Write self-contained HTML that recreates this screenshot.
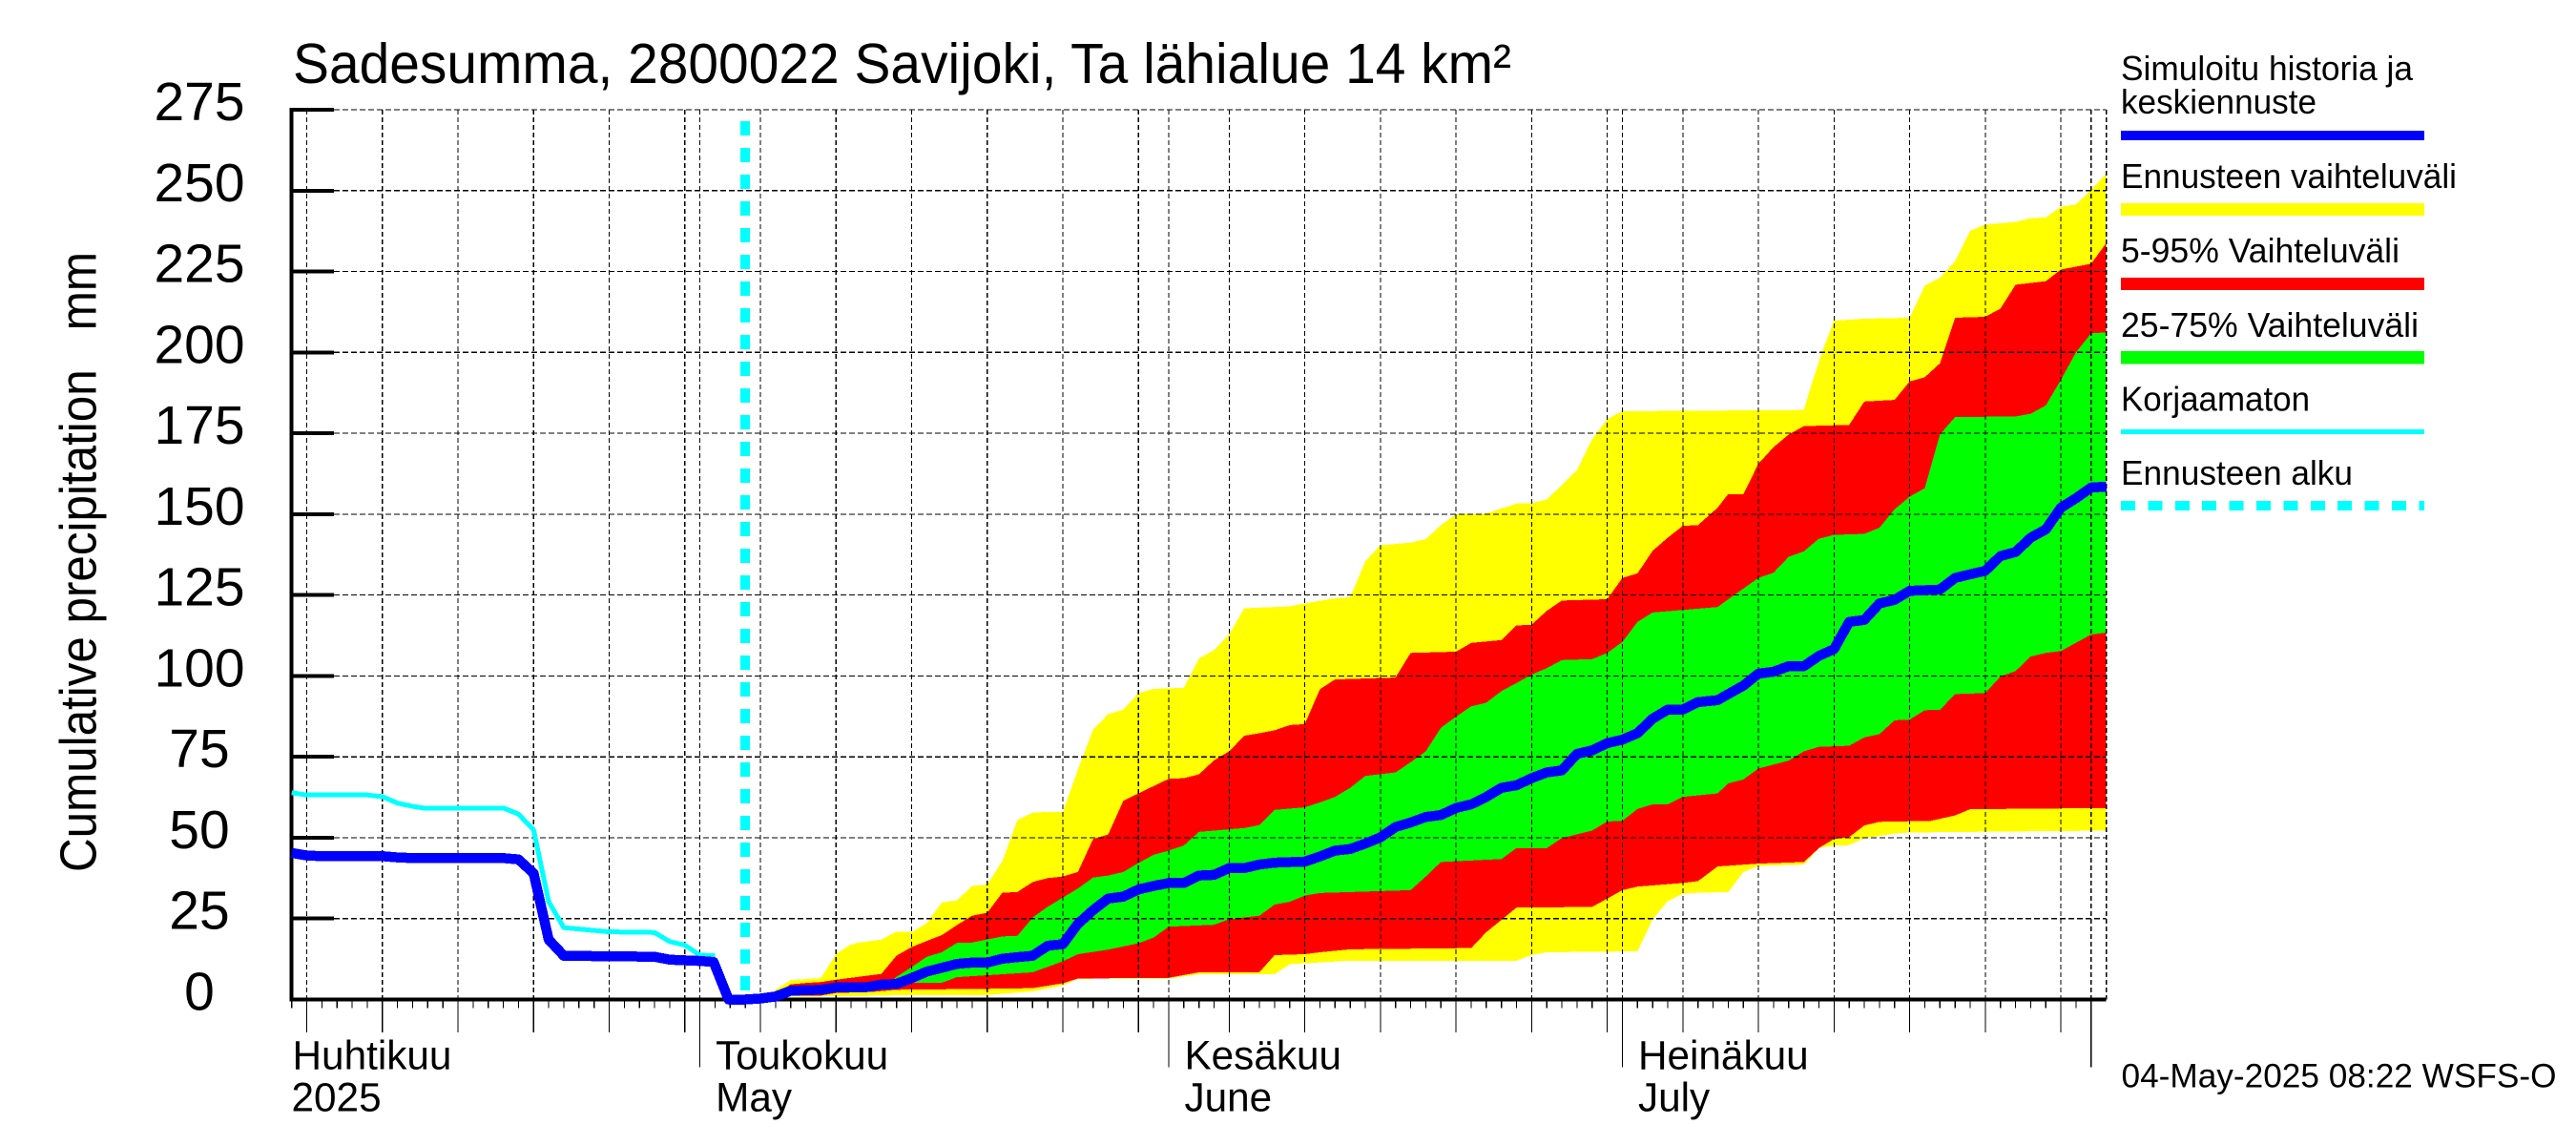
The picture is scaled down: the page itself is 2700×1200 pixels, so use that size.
<!DOCTYPE html>
<html lang="fi">
<head>
<meta charset="utf-8">
<title>Sadesumma, 2800022 Savijoki</title>
<style>
html,body{margin:0;padding:0;background:#fff;}
svg{display:block;}
text{font-family:"Liberation Sans",sans-serif;fill:#000;white-space:pre;}
</style>
</head>
<body>
<svg id="chart" xmlns="http://www.w3.org/2000/svg" width="2700" height="1200" viewBox="0 0 2700 1200">
  <rect x="0" y="0" width="2700" height="1200" fill="#ffffff"/>
  <g id="bands" shape-rendering="crispEdges"></g>
  <g id="grid" shape-rendering="crispEdges"></g>
  <g id="axes" shape-rendering="crispEdges"></g>
  <g id="series" shape-rendering="crispEdges"></g>
  <g id="labels"></g>
  <text x="307" y="87" font-size="59" textLength="1277" lengthAdjust="spacingAndGlyphs">Sadesumma, 2800022 Savijoki, Ta lähialue 14 km²</text>
  <text transform="translate(100.5 914) rotate(-90)" font-size="54" textLength="650" lengthAdjust="spacingAndGlyphs">Cumulative precipitation   mm</text>
  <text x="2223.5" y="1139.5" font-size="35" textLength="456" lengthAdjust="spacingAndGlyphs">04-May-2025 08:22 WSFS-O</text>
  <g shape-rendering="crispEdges">
    <g>
      <text x="2223" y="84" font-size="36" textLength="306" lengthAdjust="spacingAndGlyphs" shape-rendering="auto">Simuloitu historia ja</text>
      <text x="2223" y="119" font-size="36" textLength="205" lengthAdjust="spacingAndGlyphs">keskiennuste</text>
      <rect x="2223" y="137" width="318" height="10" fill="#0000ff"/>
    </g>
    <g>
      <text x="2223" y="197" font-size="36" textLength="352" lengthAdjust="spacingAndGlyphs">Ennusteen vaihteluväli</text>
      <rect x="2223" y="213" width="318" height="13" fill="#ffff00"/>
    </g>
    <g>
      <text x="2223" y="275" font-size="36" textLength="292" lengthAdjust="spacingAndGlyphs">5-95% Vaihteluväli</text>
      <rect x="2223" y="291" width="318" height="13" fill="#ff0000"/>
    </g>
    <g>
      <text x="2223" y="353" font-size="36" textLength="312" lengthAdjust="spacingAndGlyphs">25-75% Vaihteluväli</text>
      <rect x="2223" y="368" width="318" height="13.5" fill="#00ff00"/>
    </g>
    <g>
      <text x="2223" y="430.5" font-size="36" textLength="198" lengthAdjust="spacingAndGlyphs">Korjaamaton</text>
      <rect x="2223" y="450" width="318" height="5" fill="#00ffff"/>
    </g>
    <g>
      <text x="2223" y="508" font-size="36" textLength="243" lengthAdjust="spacingAndGlyphs">Ennusteen alku</text>
      <line x1="2223" y1="530" x2="2541" y2="530" stroke="#00ffff" stroke-width="10" stroke-dasharray="15 13.4"/>
    </g>
  </g>
</svg>
<script>
// Values. Days are counted from 1 May 2025 (negative = April).
var yTicks = [0, 25, 50, 75, 100, 125, 150, 175, 200, 225, 250, 275];
var majorDays = [-26, -21, -16, -11, -6, -1, 4, 9, 14, 19, 24, 29, 35, 40, 45, 50, 55, 60, 65, 70, 75, 80, 85, 90];
var monthDays = [0, 31, 61, 92];
var monthNames = ["Toukokuu", "Kesäkuu", "Heinäkuu"];
var monthNamesEn = ["May", "June", "July"];
var forecastStartDay = 3;

var yellowUpperDays = [4.5, 5.2, 6, 8, 9, 9.9, 10.5, 12, 13, 14, 15, 16, 17, 18, 19, 20, 21, 22, 23, 24, 25, 26, 27, 28, 29, 30, 32, 33, 34, 35, 36, 39, 40, 42, 43, 44, 45, 47, 48, 49, 50, 52, 54, 55, 56, 58, 59, 60, 61, 73, 73.6, 74.2, 75, 77, 80, 81, 82, 83, 84, 85, 87, 88, 89, 90, 91, 92, 93];
var yellowUpperVals = [1, 3.7, 6, 6.6, 14, 16.8, 17.6, 18.5, 21, 20.8, 23.6, 30, 30.6, 35.1, 35.5, 42.8, 55.5, 57.7, 58, 58, 71, 83.4, 88.2, 89.6, 94.7, 96, 96.3, 105.4, 108, 112.8, 120.9, 121.5, 122.4, 124, 124.3, 135.4, 140.4, 141.2, 142.3, 146.6, 150, 150.2, 153.3, 153.4, 154.5, 163.6, 173.2, 179.4, 181.8, 182.2, 191.5, 200, 209.8, 210.4, 210.7, 220.6, 223.1, 228.2, 237.6, 239.5, 240.3, 241.5, 241.7, 245, 245.7, 250.2, 255.3];

var redUpperDays = [5, 6, 7, 8, 9, 11, 12, 13, 14, 15, 16, 17, 18, 19, 20, 21, 22, 23, 24, 25, 26, 27, 28, 29, 31, 32, 33, 34, 35, 36, 37, 38, 39, 40, 41, 42, 46, 47, 50, 51, 53, 54, 55, 56, 57, 60, 61, 62, 63, 64, 65, 66, 67.3, 68, 69, 70, 71, 72, 73, 76, 77, 79, 80, 81, 82, 83, 85, 86, 87, 89, 90, 92, 93];
var redUpperVals = [1.5, 4.7, 5.1, 5.4, 6.1, 7.3, 7.9, 13.5, 16.2, 18.1, 19.9, 23, 25.9, 26.8, 33, 33.2, 36.3, 37.5, 38, 39.4, 49.6, 51, 61.4, 63.7, 68.2, 68.4, 69.6, 73.9, 76.7, 81.5, 82.3, 83.2, 84.8, 85.1, 95.9, 98.9, 99.5, 107.1, 107.5, 110.2, 111.1, 115.6, 115.8, 120.1, 123.3, 123.7, 130.3, 131.7, 138.7, 142.7, 146.4, 146.6, 152, 156.2, 156.2, 165.6, 170.7, 174.6, 177.2, 177.6, 184.8, 185.3, 191, 192.3, 196.6, 210.7, 211, 213.5, 220.9, 222, 225.6, 227.4, 233.8];

var greenUpperDays = [12.5, 13, 14, 15, 16, 17, 18, 20, 21, 22, 23, 24, 25, 26, 27, 28, 29, 30, 31, 32, 33, 34, 36, 37, 38, 40, 41, 42, 43, 44, 46, 47, 48, 49, 50, 51, 52, 53, 54, 55, 56, 57, 59, 60, 61, 62, 63, 67.3, 68.4, 70, 71, 72, 73, 74, 75, 77, 78, 79, 80, 81, 82, 83, 87, 88, 89, 90, 91, 92, 93];
var greenUpperVals = [5, 7, 10, 13.2, 14.6, 17.5, 17.6, 19.5, 19.7, 25.3, 28.7, 31.5, 34.3, 37.7, 38.3, 39.4, 42.2, 44.7, 46, 47.6, 51.8, 52.2, 53, 53.9, 58.6, 59.4, 60.9, 62.6, 65.4, 69.1, 70.2, 73.3, 76.7, 84, 87.4, 90.6, 91.7, 95.3, 97.8, 100.4, 102.4, 104.9, 105.2, 107.1, 110.5, 116.7, 119.6, 121.3, 125, 130.3, 131.9, 136.8, 138.5, 142.4, 143.6, 143.9, 145.8, 151.5, 155.4, 158, 174.6, 180, 180.2, 181, 183.6, 191.5, 200, 205.9, 206.2];

var greenLowerDays = [12.5, 14, 16, 17, 22, 23, 24, 25, 27, 29, 30, 31, 34, 35, 37, 38, 39, 40, 41, 45, 47, 48, 49, 53, 54, 56, 57, 59, 60, 61, 62, 63, 64, 65, 67.3, 68, 69, 70, 72, 73, 74, 76, 77, 78, 79, 80, 81, 82, 83, 85, 86, 87, 88, 89, 90, 92, 93];
var greenLowerVals = [5, 5.2, 5.2, 6.9, 8.4, 10.1, 11.8, 14, 15.4, 17.4, 19.1, 22.5, 23.1, 24.8, 25.9, 29.3, 30.2, 32.1, 32.9, 33.5, 33.8, 38, 42.5, 43.4, 46.8, 46.8, 49.9, 52.2, 55, 55.2, 58.9, 60.3, 60.3, 62.6, 63.7, 66.8, 68, 71.4, 73.8, 76.7, 78.1, 78.4, 81, 82, 86.3, 86.5, 89.4, 89.5, 94.4, 94.7, 99.8, 101.5, 106, 107.1, 107.7, 112.8, 113.4];

var redLowerDays = [5, 6, 8, 9, 11.5, 13, 19, 22, 24, 25, 31, 33, 37, 38, 40, 41, 43, 51, 52, 54, 59, 61, 62, 65, 66, 67.3, 70, 73, 74, 75, 76, 77, 78, 81.4, 83, 84, 93];
var redLowerVals = [0.6, 1.2, 1.2, 2, 2.4, 3, 3.3, 3.5, 5, 6.5, 6.7, 8.4, 8.4, 13.7, 14, 14.6, 15.5, 15.9, 20.8, 28.4, 28.6, 33.8, 34.9, 36, 36.6, 41.1, 42, 42.5, 46.8, 49.6, 50.2, 53.8, 54.9, 55.2, 56.9, 58.8, 59.2];

var yellowLowerDays = [4.5, 9, 11, 13, 19, 22, 24, 25, 31, 33, 38, 39, 40, 43, 54, 55, 56, 62, 63, 64, 65, 66, 68, 69, 70, 73, 74, 75, 76, 77, 79, 80, 86, 93];
var yellowLowerVals = [0.8, 1, 1.1, 1.3, 1.4, 2.5, 4.4, 6.4, 6.5, 7.8, 7.8, 10.9, 11.2, 12, 12, 13.8, 14.6, 14.9, 24.8, 30.4, 32.7, 33, 33.2, 39.4, 41.3, 41.7, 46.8, 47.6, 47.7, 49.9, 51.3, 51.6, 51.9, 52.2];

var simulatedDays = [-27, -26, -25, -21, -20, -19, -13, -12, -11, -10, -9, -3, -2, 0, 0.9, 1.9, 3, 4, 5, 6, 8, 9, 11, 12, 13, 14, 15, 16, 17, 18, 19, 20, 21, 22, 23, 24, 25, 26, 27, 28, 29, 30, 31, 32, 33, 34, 35, 36, 37, 38, 40, 41, 42, 43, 44, 45, 46, 47, 48, 49, 50, 51, 52, 53, 54, 55, 56, 57, 58, 59, 60, 61, 62, 63, 64, 65, 66, 67.3, 68, 69, 70, 71, 72, 73, 74, 75, 76, 77, 78, 79, 80, 82, 83, 84, 85, 86, 87, 88, 89, 90, 91, 92, 93];
var simulatedVals = [45.3, 44.5, 44.3, 44.3, 43.9, 43.7, 43.7, 43.3, 39, 18.5, 13.5, 13.2, 12.3, 11.9, 11.6, 0, 0, 0.3, 0.9, 2.7, 3, 3.7, 3.8, 4.6, 4.8, 6.6, 8.6, 9.8, 11, 11.4, 11.4, 12.6, 13.1, 13.5, 16.6, 17.1, 23.4, 27.6, 31.2, 31.8, 34, 35.1, 36, 36, 38.3, 38.5, 40.6, 40.6, 41.7, 42.3, 42.6, 44.2, 46, 46.5, 48.2, 50.1, 53.3, 54.7, 56.4, 57, 59.2, 60.3, 62.6, 65.4, 66.2, 68.4, 70.2, 70.8, 75.9, 77, 79.2, 80.3, 82.3, 86.8, 89.6, 89.6, 91.9, 92.5, 94.4, 97, 100.7, 101.3, 103, 103, 106.2, 108.3, 116.7, 117.3, 122.4, 123.5, 126.3, 126.7, 130.3, 131.4, 132.5, 137, 138.3, 142.7, 145.3, 152, 154.9, 158.2, 158.5];

var uncorrectedDays = [-27, -26, -22, -21, -20, -19, -18.3, -13, -12, -11, -10, -9, -6, -3, -2, -1, 0, 1];
var uncorrectedVals = [63.9, 63.2, 63.2, 62.7, 60.7, 59.7, 59.2, 59.2, 57.3, 52.4, 30.2, 22.2, 20.9, 20.7, 17.9, 16.8, 13.7, 13.5];

var SVGNS = "http://www.w3.org/2000/svg";
function xScale(day) { return 733.6 + day * 15.85; }
function yScale(v) { return 1047.5 - v * 3.391; }
function make(tag, attrs, parent) {
  var el = document.createElementNS(SVGNS, tag);
  for (var k in attrs) el.setAttribute(k, attrs[k]);
  parent.appendChild(el);
  return el;
}
function linePoints(days, vals) {
  return days.map(function (d, i) { return xScale(d).toFixed(1) + "," + yScale(vals[i]).toFixed(1); });
}
function bandPoints(upD, upV, loD, loV) {
  return linePoints(upD, upV).concat(linePoints(loD, loV).reverse()).join(" ");
}

var bands = document.getElementById("bands");
var grid = document.getElementById("grid");
var series = document.getElementById("series");
var axes = document.getElementById("axes");
var labels = document.getElementById("labels");

var yellowBand = make("polygon", { points: bandPoints(yellowUpperDays, yellowUpperVals, yellowLowerDays, yellowLowerVals), fill: "#ffff00" }, bands);


var redBand = make("polygon", { points: bandPoints(redUpperDays, redUpperVals, redLowerDays, redLowerVals), fill: "#ff0000" }, bands);


var greenBand = make("polygon", { points: bandPoints(greenUpperDays, greenUpperVals, greenLowerDays, greenLowerVals), fill: "#00ff00" }, bands);



yTicks.forEach(function (v) {
  var gl = make("line", { x1: 350, x2: xScale(93), y1: yScale(v), y2: yScale(v), stroke: "#000", "stroke-width": 1.2, "stroke-dasharray": "6 3" }, grid);
  
  
  var tick = make("line", { x1: xScale(-27), x2: 350, y1: yScale(v), y2: yScale(v), stroke: "#000", "stroke-width": 4 }, axes);
  
  
  var lab = make("text", { x: 209, y: yScale(v) + 11, "font-size": 57, "text-anchor": "middle" }, labels);
  lab.textContent = String(v);
  
  
});

majorDays.concat(monthDays, [93]).forEach(function (d) {
  var gl = make("line", { x1: xScale(d), x2: xScale(d), y1: yScale(275), y2: yScale(0), stroke: "#000", "stroke-width": 1.2, "stroke-dasharray": "5 3" }, grid);
  
  
});

for (var day = -27; day <= 92; day++) {
  var tickEnd = 1056.5;
  if (majorDays.indexOf(day) >= 0) tickEnd = 1082;
  if (monthDays.indexOf(day) >= 0) tickEnd = 1118.5;
  var xt = make("line", { x1: xScale(day), x2: xScale(day), y1: 1047.5, y2: tickEnd, stroke: "#000", "stroke-width": 1.2 }, axes);
  
  
}

var yAxis = make("line", { x1: xScale(-27), x2: xScale(-27), y1: yScale(275) - 2, y2: yScale(0) + 2, stroke: "#000", "stroke-width": 4 }, axes);


var xAxis = make("line", { x1: xScale(-27), x2: xScale(93), y1: yScale(0), y2: yScale(0), stroke: "#000", "stroke-width": 4 }, axes);



var startLine = make("line", { x1: xScale(forecastStartDay), x2: xScale(forecastStartDay), y1: 127, y2: yScale(0), stroke: "#00ffff", "stroke-width": 10, "stroke-dasharray": "15 13" }, series);



var uncorrectedLine = make("polyline", { points: linePoints(uncorrectedDays, uncorrectedVals).join(" "), fill: "none", stroke: "#00ffff", "stroke-width": 5, "stroke-linejoin": "round" }, series);



var simulatedLine = make("polyline", { points: linePoints(simulatedDays, simulatedVals).join(" "), fill: "none", stroke: "#0000ff", "stroke-width": 10.5, "stroke-linejoin": "round" }, series);



var labelSize = 42.3;
function addLabel(x, y, txt, name) {
  var t = make("text", { x: x, y: y, "font-size": labelSize }, labels);
  t.textContent = txt;
  
  
}
addLabel(306.5, 1120.5, "Huhtikuu", "month-label-fi");
addLabel(305.5, 1164.5, "2025", "year-label");
monthDays.slice(0, 3).forEach(function (d, i) {
  var lx = xScale(d) + 16.5;
  addLabel(lx, 1120.5, monthNames[i], "month-label-fi");
  addLabel(lx, 1164.5, monthNamesEn[i], "month-label-en");
});
</script>
</body>
</html>
